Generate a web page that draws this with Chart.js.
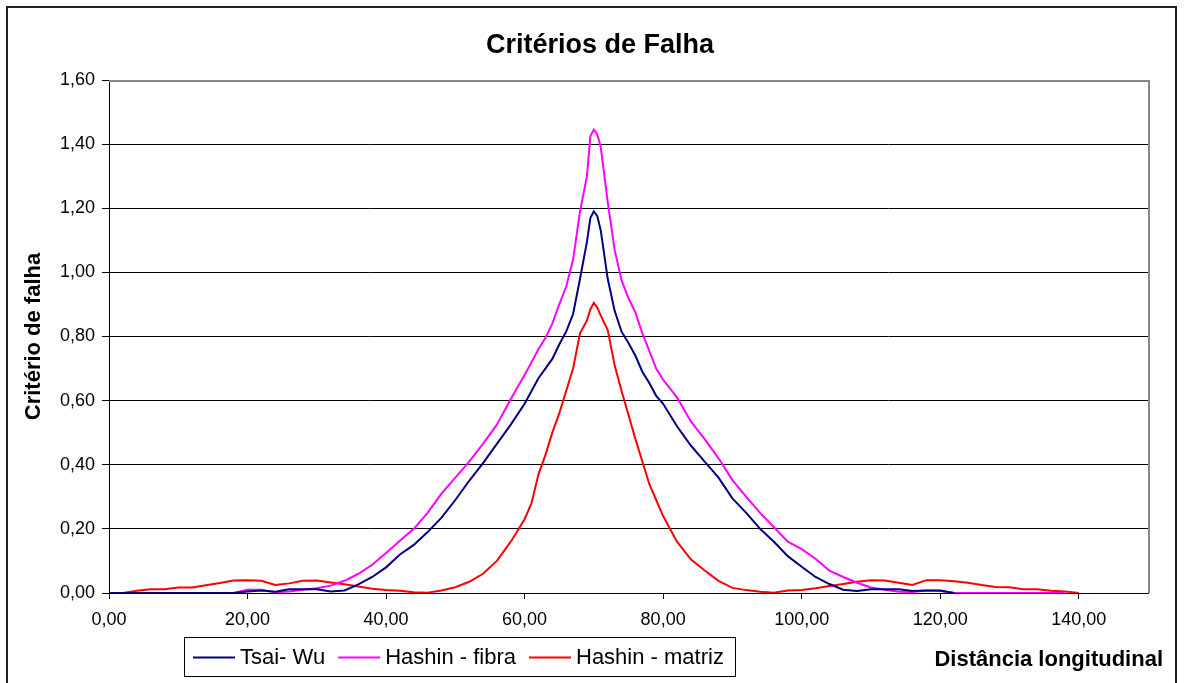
<!DOCTYPE html>
<html>
<head>
<meta charset="utf-8">
<script src="https://cdn.jsdelivr.net/npm/chart.js@4.4.1/dist/chart.umd.min.js"></script>
<style>
    body { margin: 0; background: #fff; }
    canvas { display: block; }
</style>
</head>
<body>
<canvas id="falhaChart" width="1184" height="683"></canvas>
<script>
// data
const distances = [
    0, 2, 4, 6, 8, 10, 12, 14, 16, 18, 20, 22, 24, 26, 28, 30, 32, 34, 36, 38,
    40, 42, 44, 46, 48, 50, 52, 54, 56, 58, 60,
    61, 62, 63, 64, 65, 66, 67, 68, 69, 69.5, 70, 70.5, 71, 72, 73, 74, 75,
    76, 77, 78, 79,
    80, 82, 84, 86, 88, 90, 92, 94, 96, 98, 100, 102, 104, 106, 108, 110, 112,
    114, 116, 118, 120, 122, 124, 126, 128, 130, 132, 134, 136, 138, 140,
]
const tsaiWu = [
    0, 0, 0, 0, 0, 0, 0, 0, 0, 0, 0.005, 0.008, 0.004, 0.012, 0.012, 0.012,
    0.005, 0.008, 0.027, 0.05,
    0.08, 0.12, 0.15, 0.19, 0.235, 0.29, 0.35, 0.405, 0.465, 0.525, 0.59,
    0.63, 0.67, 0.7, 0.73, 0.775, 0.815, 0.87, 0.98, 1.095, 1.17, 1.19, 1.175,
    1.13, 0.98, 0.88, 0.815, 0.78, 0.74, 0.69, 0.655, 0.615,
    0.59, 0.52, 0.46, 0.41, 0.36, 0.295, 0.25, 0.2, 0.16, 0.115, 0.082, 0.05,
    0.028, 0.01, 0.006, 0.012, 0.012, 0.012, 0.006, 0.008, 0.008, 0,
    null, null, null, null, null, null, null, null, null,
]
const hashinFibra = [
    0, 0, 0, 0, 0, 0, 0, 0, 0, 0, 0.01, 0.01, 0.002, 0.005, 0.01, 0.015,
    0.023, 0.038, 0.06, 0.088,
    0.125, 0.163, 0.2, 0.25, 0.31, 0.36, 0.41, 0.465, 0.525, 0.605, 0.68,
    0.72, 0.76, 0.795, 0.84, 0.9, 0.955, 1.04, 1.19, 1.3, 1.425, 1.445, 1.43,
    1.39, 1.22, 1.07, 0.975, 0.92, 0.875, 0.81, 0.755, 0.7,
    0.665, 0.61, 0.535, 0.48, 0.42, 0.352, 0.3, 0.25, 0.205, 0.16, 0.137,
    0.107, 0.07, 0.05, 0.032, 0.017, 0.01, 0.004, 0.003, 0.008, 0.006, 0,
    0, 0, 0, 0, 0, 0, 0, 0, null,
]
const hashinMatriz = [
    0, 0, 0.007, 0.012, 0.012, 0.017, 0.017, 0.024, 0.031, 0.039, 0.04, 0.038,
    0.025, 0.03, 0.038, 0.039, 0.033, 0.027, 0.02, 0.013,
    0.009, 0.007, 0.002, 0.001, 0.008, 0.018, 0.035, 0.06, 0.1, 0.16, 0.23,
    0.28, 0.37, 0.43, 0.5, 0.56, 0.63, 0.7, 0.81, 0.85, 0.885, 0.905, 0.89,
    0.865, 0.82, 0.71, 0.63, 0.555, 0.48, 0.41, 0.34, 0.29,
    0.24, 0.16, 0.105, 0.07, 0.038, 0.016, 0.009, 0.004, 0.001, 0.008, 0.009,
    0.015, 0.022, 0.028, 0.035, 0.04, 0.039, 0.032, 0.025, 0.04, 0.04, 0.037,
    0.032, 0.025, 0.019, 0.018, 0.012, 0.012, 0.007, 0.005, 0,
]
const seriesNames = ["Tsai- Wu", "Hashin - fibra", "Hashin - matriz"]
const seriesColors = ["#000080", "#FF00FF", "#FF0000"]

const FONT = "'Liberation Sans', Arial, sans-serif"
const toPoints = (vals) => distances.map((d, i) => ({ x: d, y: vals[i] }))
const fmt = (v) => Number(v).toFixed(2).replace(".", ",")

// outer frame, title, plot border, x title and legend box
const decorations = {
    id: "decorations",
    afterDraw(chart) {
        const ctx = chart.ctx
        const a = chart.chartArea
        ctx.save()
        ctx.strokeStyle = "#222"
        ctx.lineWidth = 2
        ctx.strokeRect(7, 7, 1169, 700)

        ctx.strokeStyle = "#888"
        ctx.lineWidth = 2
        ctx.beginPath()
        ctx.moveTo(a.left, a.top + 1)
        ctx.lineTo(a.right + 1, a.top + 1)
        ctx.lineTo(a.right + 1, a.bottom)
        ctx.stroke()

        ctx.fillStyle = "#000"
        ctx.textBaseline = "middle"
        ctx.font = "bold 27px " + FONT
        ctx.textAlign = "center"
        ctx.fillText("Critérios de Falha", 600, 46)

        ctx.font = "bold 22px " + FONT
        ctx.textAlign = "right"
        ctx.fillText("Distância longitudinal", 1163, 660)

        // legend
        ctx.strokeStyle = "#000"
        ctx.lineWidth = 1
        ctx.strokeRect(184.5, 637.5, 551, 39)
        ctx.font = "22px " + FONT
        ctx.textAlign = "left"
        let x = 193
        chart.data.datasets.forEach((ds) => {
            ctx.strokeStyle = ds.borderColor
            ctx.lineWidth = 2
            ctx.beginPath()
            ctx.moveTo(x, 657.5)
            ctx.lineTo(x + 42, 657.5)
            ctx.stroke()
            ctx.fillStyle = "#000"
            ctx.fillText(ds.label, x + 47, 658)
            x += 47 + ctx.measureText(ds.label).width + 13
        })
        ctx.restore()
    },
}

const falhaCtx = document.getElementById("falhaChart")
new Chart(falhaCtx, {
    type: "line",
    data: {
        datasets: [tsaiWu, hashinFibra, hashinMatriz].map((vals, i) => ({
            label: seriesNames[i],
            data: toPoints(vals),
            borderColor: seriesColors[i],
            backgroundColor: seriesColors[i],
            borderWidth: 2,
            pointRadius: 0,
            tension: 0,
            fill: false,
        })),
    },
    options: {
        responsive: false,
        animation: false,
        layout: { padding: { left: 8, right: 36, top: 80, bottom: 0 } },
        plugins: {
            legend: { display: false },
            tooltip: { enabled: false },
            title: { display: false },
        },
        scales: {
            x: {
                type: "linear",
                min: 0,
                max: 150,
                ticks: {
                    stepSize: 20,
                    color: "#000",
                    font: { family: FONT, size: 18 },
                    padding: 10,
                    maxRotation: 0,
                    callback: (v) => fmt(v),
                },
                afterBuildTicks: (axis) => {
                    axis.ticks = axis.ticks.filter((t) => t.value % 20 === 0)
                },
                grid: {
                    drawOnChartArea: false,
                    tickLength: 6,
                    color: "#000",
                },
                border: { color: "#000", width: 1 },
                afterFit: (scale) => {
                    scale.height = 90
                },
            },
            y: {
                min: 0,
                max: 1.6,
                ticks: {
                    stepSize: 0.2,
                    color: "#000",
                    font: { family: FONT, size: 18 },
                    padding: 7,
                    callback: (v) => fmt(v),
                },
                grid: {
                    color: (c) => (c.tick && c.tick.value >= 1.59 ? "#888" : "#000"),
                    tickColor: "#000",
                    tickLength: 7,
                },
                border: { color: "#000", width: 1 },
                title: {
                    display: true,
                    text: "Critério de falha",
                    color: "#000",
                    font: { family: FONT, size: 22, weight: "bold" },
                    padding: { top: 13, bottom: 0 },
                },
                afterFit: (scale) => {
                    scale.width = 101
                },
            },
        },
    },
    plugins: [decorations],
})
</script>
</body>
</html>
